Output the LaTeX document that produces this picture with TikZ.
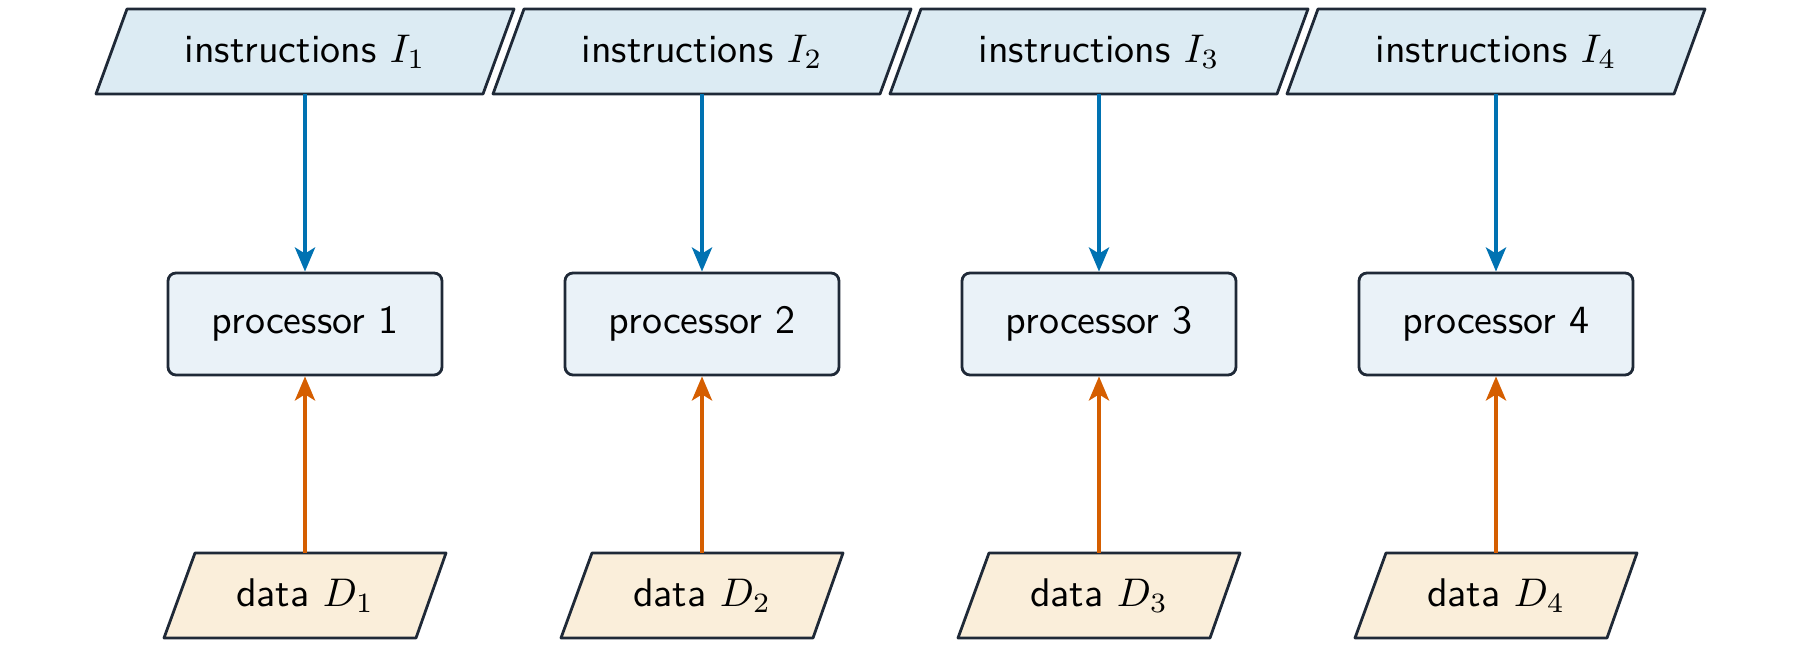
\documentclass[tikz,border=0pt]{standalone}
\usetikzlibrary{arrows.meta}
\definecolor{ifill}{HTML}{DCEBF3}
\definecolor{pfill}{HTML}{EAF2F8}
\definecolor{dfill}{HTML}{FAEEDA}
\definecolor{edge}{HTML}{1F2937}
\definecolor{iblue}{HTML}{0072B2}
\definecolor{dorange}{HTML}{D55E00}
\begin{document}
\begin{tikzpicture}[x=0.25pt,y=-0.25pt,
  txt/.style={font=\sffamily\fontsize{10}{12}\selectfont,inner sep=0pt},
  shp/.style={draw=edge,line width=0.7pt,line join=round},
  proc/.style={shp,fill=pfill,rounded corners=2pt,minimum width=68.5pt,minimum height=25.5pt,font=\sffamily\fontsize{10}{12}\selectfont},
  ia/.style={draw=iblue,line width=1.1pt,-{Stealth[length=6pt,width=5pt,inset=1.5pt]}},
  da/.style={draw=dorange,line width=1.1pt,-{Stealth[length=6pt,width=5pt,inset=1.5pt]}}]
\useasboundingbox (0,0) rectangle (1800,648);
\foreach \k/\cx in {1/305,2/702,3/1099,4/1496}{
  \path[shp,fill=ifill] (\cx-209,94) -- (\cx-178,9) -- (\cx+209,9) -- (\cx+178,94) -- cycle;
  \node[txt] (i\k) at (\cx,52) {instructions $I_{\k}$};
  \coordinate (ib\k) at (\cx,94);
  \path[shp,fill=dfill] (\cx-141,638) -- (\cx-110,553) -- (\cx+141,553) -- (\cx+111,638) -- cycle;
  \node[txt] (d\k) at (\cx,596) {data $D_{\k}$};
  \coordinate (dt\k) at (\cx,553);
  \node[proc] (p\k) at (\cx,324) {processor \k};
  \draw[ia] (ib\k) -- (p\k.north);
  \draw[da] (dt\k) -- (p\k.south);
}
\end{tikzpicture}
\end{document}
